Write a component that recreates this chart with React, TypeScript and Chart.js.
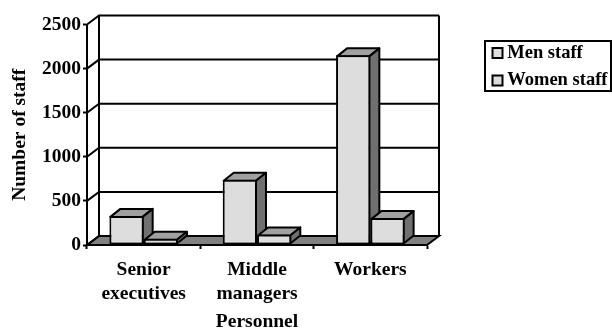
import React, { useEffect, useRef } from "react";
import { Chart, registerables } from "chart.js";

Chart.register(...registerables);

const categories = [["Senior", "executives"], ["Middle", "managers"], "Workers"];
const menStaff = [330, 740, 2150];
const womenStaff = [70, 120, 305];
const seriesNames = ["Men staff", "Women staff"];
const valueTicksMax = 2500;
const valueTickStep = 500;

const INK = "#000000";
const FRONT = "#dddddd";
const TOP = "#a0a0a0";
const SIDE = "#707070";
const FLOOR = "#808080";
const FONT = { family: "'Liberation Serif'", size: 19.5, weight: "bold" as const };

// Depth of the chart box and of each bar, as screen offsets.
const WALL_DX = 12;
const WALL_DY = -9;
const BAR_DX = 10;
const BAR_DY = -8;
const BAR_BORDER = 2;

function polygon(ctx: CanvasRenderingContext2D, pts: number[][], fill?: string) {
  ctx.beginPath();
  pts.forEach(([x, y], i) => (i ? ctx.lineTo(x, y) : ctx.moveTo(x, y)));
  ctx.closePath();
  if (fill) {
    ctx.fillStyle = fill;
    ctx.fill();
  }
  ctx.stroke();
}

// Bar borders sit inside the bar's rectangle, so the faces start from the border's centre line.
function drawDepthFaces(ctx: CanvasRenderingContext2D, meta: any) {
  const inset = BAR_BORDER / 2;
  ctx.save();
  ctx.strokeStyle = INK;
  ctx.lineWidth = BAR_BORDER;
  ctx.lineJoin = "round";
  for (const bar of meta.data) {
    const l = bar.x - bar.width / 2 + inset;
    const r = bar.x + bar.width / 2 - inset;
    const t = bar.y + inset;
    const b = bar.base - inset;
    polygon(
      ctx,
      [
        [l, t],
        [l + BAR_DX, t + BAR_DY],
        [r + BAR_DX, t + BAR_DY],
        [r, t],
      ],
      TOP
    );
    polygon(
      ctx,
      [
        [r, t],
        [r + BAR_DX, t + BAR_DY],
        [r + BAR_DX, b + BAR_DY],
        [r, b],
      ],
      SIDE
    );
  }
  ctx.restore();
}

// Floor, back wall and side-wall diagonals of the box, plus the bar depth faces.
const boxPlugin = {
  id: "box",
  beforeDatasetsDraw(chart: any) {
    const { ctx, chartArea: a, scales } = chart;
    ctx.save();
    ctx.strokeStyle = INK;
    ctx.lineWidth = 2;
    polygon(
      ctx,
      [
        [a.left, a.bottom],
        [a.left + WALL_DX, a.bottom + WALL_DY],
        [a.right + WALL_DX, a.bottom + WALL_DY],
        [a.right, a.bottom],
      ],
      FLOOR
    );
    ctx.beginPath();
    ctx.moveTo(a.left + WALL_DX, a.top + WALL_DY);
    ctx.lineTo(a.left + WALL_DX, a.bottom + WALL_DY);
    ctx.moveTo(a.right + WALL_DX, a.top + WALL_DY);
    ctx.lineTo(a.right + WALL_DX, a.bottom + WALL_DY);
    for (const t of scales.y.ticks) {
      const y = scales.y.getPixelForValue(t.value);
      ctx.moveTo(a.left, y);
      ctx.lineTo(a.left + WALL_DX, y + WALL_DY);
      if (t.value > 0) {
        ctx.lineTo(a.right + WALL_DX, y + WALL_DY);
      }
    }
    ctx.stroke();
    ctx.restore();
  },
  // The left-hand series paints first here, so the right-hand one sits over its side face.
  beforeDatasetDraw(chart: any, args: any) {
    if (args.index === 1) {
      return false;
    }
    drawDepthFaces(chart.ctx, args.meta);
    return true;
  },
  afterDatasetsDraw(chart: any) {
    const meta = chart.getDatasetMeta(1);
    drawDepthFaces(chart.ctx, meta);
    for (const bar of meta.data) {
      bar.draw(chart.ctx);
    }
  },
  // The legend floats beside the plot, and gets a frame.
  afterLayout(chart: any) {
    const lg = chart.legend;
    lg.left = 488;
    lg.right = 611;
    lg.width = lg.right - lg.left;
    lg.top = 34.75;
    lg.bottom = 100;
    lg.height = lg.bottom - lg.top;
    lg.adjustHitBoxes();
  },
  afterDraw(chart: any) {
    const { ctx } = chart;
    ctx.save();
    ctx.strokeStyle = INK;
    ctx.lineWidth = 2;
    ctx.strokeRect(485, 41, 126, 50);
    ctx.restore();
  },
};

export default function App() {
  const ref = useRef<HTMLCanvasElement>(null);
  useEffect(() => {
    const barStyle = {
      backgroundColor: FRONT,
      borderColor: INK,
      borderWidth: BAR_BORDER,
      borderSkipped: false,
      categoryPercentage: 0.605,
      barPercentage: 1,
    };
    const chart = new Chart(ref.current!, {
      type: "bar",
      data: {
        labels: categories,
        datasets: [
          { label: seriesNames[0], data: menStaff, ...barStyle },
          { label: seriesNames[1], data: womenStaff, ...barStyle },
        ],
      },
      options: {
        animation: false,
        responsive: false,
        color: INK,
        layout: { padding: { top: 24.5, right: 184, left: 0, bottom: 0 } },
        plugins: {
          tooltip: { enabled: false },
          legend: {
            position: "right",
            align: "start",
            maxWidth: 1,
            labels: {
              color: INK,
              font: { ...FONT, size: 18.5 },
              usePointStyle: true,
              pointStyle: "rect",
              boxWidth: 1,
              boxHeight: 10,
              padding: 9,
            },
          },
        },
        scales: {
          x: {
            afterFit: (s: any) => {
              s.height = 84;
            },
            grid: {
              offset: true,
              drawOnChartArea: false,
              tickLength: 4,
              tickWidth: 2,
              tickColor: INK,
            },
            border: { color: INK, width: 2 },
            ticks: { color: INK, font: FONT, padding: 9.5, maxRotation: 0, autoSkip: false },
            title: {
              display: true,
              text: "Personnel",
              color: INK,
              font: FONT,
              padding: { top: 0, bottom: -5 },
            },
          },
          y: {
            min: 0,
            max: valueTicksMax,
            afterFit: (s: any) => {
              s.width = 87;
            },
            grid: { drawOnChartArea: false, tickLength: 4, tickWidth: 2, tickColor: INK },
            border: { color: INK, width: 2 },
            ticks: {
              color: INK,
              font: FONT,
              stepSize: valueTickStep,
              padding: 2,
              callback: (v: number) => String(v),
            },
            title: {
              display: true,
              text: "Number of staff",
              color: INK,
              font: FONT,
              padding: { top: 8, bottom: 0 },
            },
          },
        },
      },
      plugins: [boxPlugin],
    } as any);
    return () => chart.destroy();
  }, []);
  return (
    <div style={{ position: "fixed", left: 0, top: 0, width: 612, height: 329, background: "#fff" }}>
      <canvas ref={ref} width={612} height={329} style={{ display: "block" }} />
    </div>
  );
}
